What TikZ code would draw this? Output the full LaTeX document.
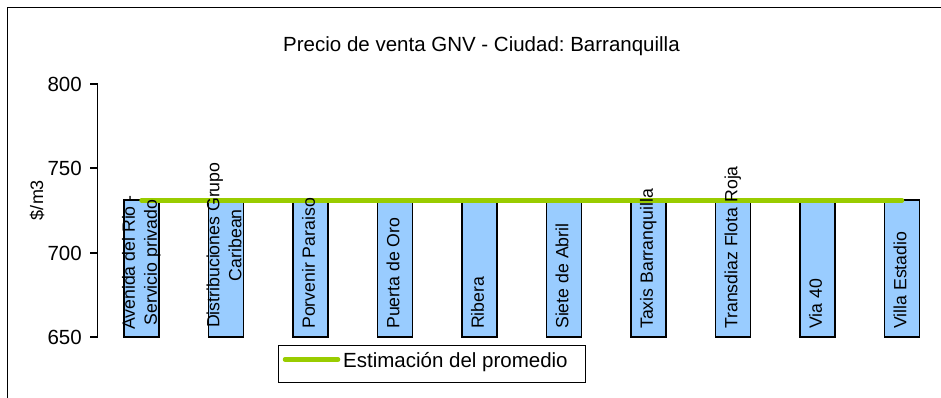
\documentclass[tikz,border=0pt]{standalone}
\usepackage{fontspec}
\setmainfont{Liberation Sans}
\frenchspacing
\definecolor{barblue}{HTML}{99CCFF}
\definecolor{avggreen}{HTML}{99CC00}
\tikzset{
  bigfont/.style={font=\fontsize{20.5}{24}\selectfont},
  bar/.style={draw=black, line width=1.5pt, fill=barblue, minimum width=35pt, minimum height=137pt, inner sep=0pt},
  catlabel/.style={rotate=90, anchor=west, align=center, inner sep=0pt, font=\fontsize{17.7}{22}\selectfont},
  avgline/.style={draw=avggreen, line width=4.5pt, line cap=round},
  ticklabel/.style={bigfont, anchor=base east, inner sep=0pt},
  axisline/.style={line width=1.6pt},
}
\begin{document}
\begin{tikzpicture}[x=1pt,y=-1pt]
\useasboundingbox (0,0) rectangle (941,398);
\clip (0,0) rectangle (941,398);
\fill[white] (0,0) rectangle (941,398);
% outer frame
\draw[line width=1pt] (7,8) rectangle (960,420);
% title
\node[bigfont, anchor=base, inner sep=0pt] (title) at (481.5,52) {Precio de venta GNV - Ciudad: Barranquilla};
% y axis
\coordinate (ytop) at (97.5,84);
\coordinate (ybot) at (97.5,337);
\draw[axisline] (ytop) -- (ybot);
\foreach \v/\y [count=\i] in {800/84, 750/168.3, 700/252.7, 650/337}{
  \coordinate (tk\i) at (97.5,\y);
  \coordinate (tke\i) at (90,\y);
  \draw[axisline] (tk\i) -- (tke\i);
  \node[ticklabel] (tl\i) at (82,\y+7.3) {\v};
}
\node[rotate=90, font=\fontsize{18}{21}\selectfont, inner sep=0pt] (ytitle) at (37,200) {\$/m3};
% bars
\foreach \i in {1,...,10}{
  \node[bar] (b\i) at ({141.5+84.5*(\i-1)},268.5) {};
}
% average line
\draw[avgline] ([yshift=-1pt]b1.north) -- ([yshift=-1pt]b10.north);
% category labels
\node[catlabel] (l1) at (141.5,330) {\strut Avenida del Rio -\\\strut Servicio privado};
\node[catlabel] (l2) at (226,328) {\strut Distribuciones Grupo\\\strut Caribean};
\node[catlabel] (l3) at (310.5,329) {\strut Porvenir Paraiso};
\node[catlabel] (l4) at (395,329) {\strut Puerta de Oro};
\node[catlabel] (l5) at (479.5,329) {\strut Ribera};
\node[catlabel] (l6) at (564,329) {\strut Siete de Abril};
\node[catlabel] (l7) at (648.5,329) {\strut Taxis Barranquilla};
\node[catlabel] (l8) at (733,329) {\strut Transdiaz Flota Roja};
\node[catlabel] (l9) at (817.5,329) {\strut Via 40};
\node[catlabel] (l10) at (902,329) {\strut Villa Estadio};
% legend
\node[draw=black, line width=1pt, minimum width=307pt, minimum height=37pt, inner sep=0pt, anchor=north west] (legend) at (278,345) {};
\coordinate (legs) at (285,359.5);
\coordinate (lege) at (338,359.5);
\draw[avgline] (legs) -- (lege);
\node[bigfont, anchor=base west, inner sep=0pt] (legtext) at (343,367) {Estimación del promedio};
\end{tikzpicture}
\end{document}
